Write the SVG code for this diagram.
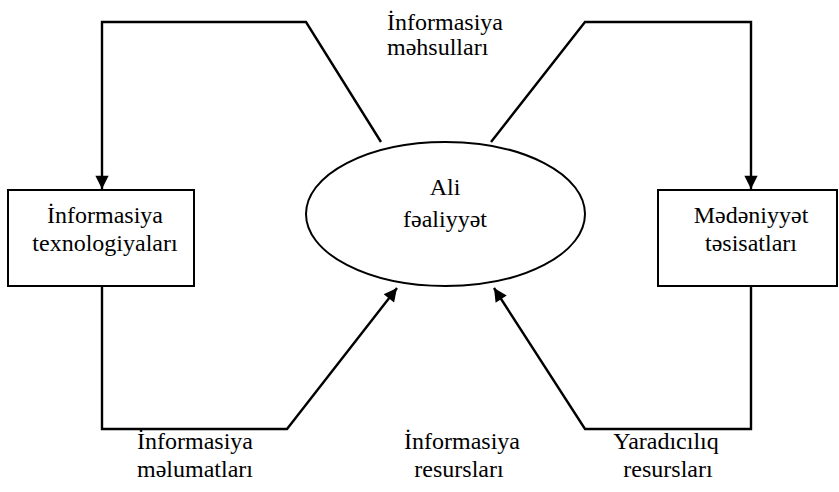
<svg xmlns="http://www.w3.org/2000/svg" width="839" height="492" viewBox="0 0 839 492">
<style>
text{font-family:"Liberation Serif","Times New Roman",serif;font-size:24px;fill:#000}
.c{text-anchor:middle}
.box{fill:#fff;stroke:#000;stroke-width:2}
.conn{fill:none;stroke:#000;stroke-width:2.4}
</style>
<defs>
<marker id="ah" viewBox="0 0 10 10" refX="10" refY="5" markerWidth="6.5" markerHeight="5.5" orient="auto" markerUnits="strokeWidth">
<path d="M0,0 L10,5 L0,10 z" fill="#000"/>
</marker>
</defs>
<rect width="839" height="492" fill="#fff"/>
<g id="connectors">
<polyline class="conn" points="381,142 306,22 102,22 102,189" marker-end="url(#ah)"/>
<polyline class="conn" points="491,142 585,22 751,22 751,189" marker-end="url(#ah)"/>
<polyline class="conn" points="102,286 102,429 287,429 397,288" marker-end="url(#ah)"/>
<polyline class="conn" points="751,286 751,429 585,429 494,288" marker-end="url(#ah)"/>
</g>
<g id="node-center">
<ellipse cx="445.5" cy="214" rx="139.5" ry="72" fill="#fff" stroke="#000" stroke-width="2"/>
<text class="c" x="445" y="195">Ali</text>
<text class="c" x="445" y="227">fəaliyyət</text>
</g>
<g id="node-left">
<rect class="box" x="8" y="190" width="186" height="96"/>
<text class="c" x="105" y="223">İnformasiya</text>
<text class="c" x="105" y="251">texnologiyaları</text>
</g>
<g id="node-right">
<rect class="box" x="658" y="190" width="179" height="96"/>
<text class="c" x="751" y="223">Mədəniyyət</text>
<text class="c" x="751" y="251">təsisatları</text>
</g>
<g id="label-top">
<text x="387" y="30">İnformasiya</text>
<text x="387" y="55">məhsulları</text>
</g>
<g id="label-bottom-left">
<text class="c" x="195" y="449">İnformasiya</text>
<text class="c" x="195" y="477">məlumatları</text>
</g>
<g id="label-bottom-mid">
<text class="c" x="462" y="449">İnformasiya</text>
<text class="c" x="459" y="477">resursları</text>
</g>
<g id="label-bottom-right">
<text class="c" x="666" y="449">Yaradıcılıq</text>
<text class="c" x="668" y="477">resursları</text>
</g>
</svg>
